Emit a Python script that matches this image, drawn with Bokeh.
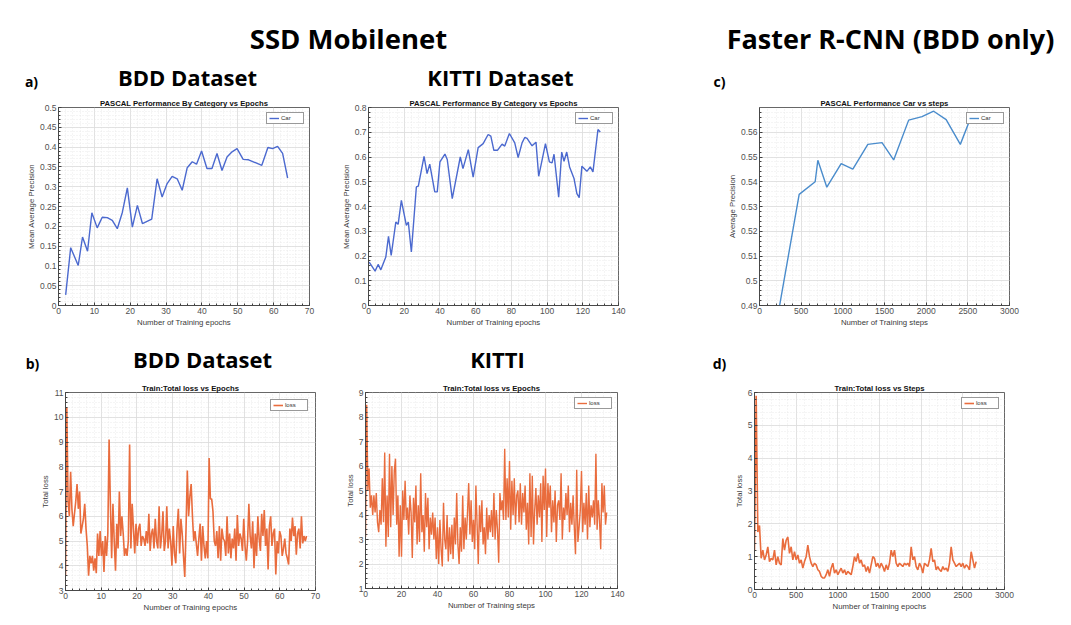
import numpy as np
from bokeh.plotting import figure
from bokeh.models import Range1d, Label, SingleIntervalTicker, CustomJSTickFormatter
from bokeh.layouts import column, row
from bokeh.embed import file_html
from bokeh.resources import INLINE

# ---------------- data ----------------
bdd_ap_epoch = [2.0, 3.4, 5.5, 6.7, 8.1, 9.3, 10.8, 12.2, 13.6, 15.0, 16.4, 17.8, 19.2, 20.6, 22.0,
                23.4, 26.0, 27.5, 28.9, 30.3, 31.7, 33.1, 34.5, 35.9, 37.3, 38.5, 39.9, 41.4, 42.8,
                44.2, 45.6, 47.0, 48.4, 49.8, 51.5, 53.0, 56.7, 58.4, 59.7, 61.1, 62.5, 63.9]
bdd_ap_car = [0.027, 0.146, 0.101, 0.173, 0.137, 0.234, 0.196, 0.223, 0.222, 0.215, 0.194, 0.235,
              0.297, 0.198, 0.253, 0.207, 0.218, 0.320, 0.274, 0.308, 0.326, 0.320, 0.291, 0.348,
              0.363, 0.357, 0.390, 0.346, 0.346, 0.384, 0.341, 0.375, 0.388, 0.396, 0.369, 0.368,
              0.354, 0.399, 0.396, 0.402, 0.384, 0.322]

kitti_ap_epoch = [0.4, 3.7, 5.4, 6.9, 9.7, 11.2, 12.7, 15.3, 16.6, 18.4, 21.2, 22.3, 24.0, 26.8, 27.9,
                  31.1, 32.8, 34.3, 37.1, 38.5, 40.0, 42.8, 44.1, 46.9, 51.4, 52.9, 55.9, 58.6, 61.4,
                  64.2, 67.0, 68.5, 70.2, 72.2, 74.8, 76.3, 78.9, 81.9, 83.8, 86.0, 87.5, 88.8, 91.6,
                  93.8, 95.3, 97.2, 99.1, 101.3, 102.8, 103.9, 106.5, 108.2, 109.5, 111.0, 112.6,
                  115.1, 116.7, 118.0, 119.5, 122.3, 124.2, 125.7, 128.5, 129.8]
kitti_ap_car = [0.175, 0.139, 0.166, 0.144, 0.196, 0.279, 0.202, 0.337, 0.328, 0.425, 0.324, 0.337,
                0.216, 0.479, 0.482, 0.603, 0.533, 0.571, 0.459, 0.459, 0.580, 0.612, 0.590, 0.432,
                0.600, 0.553, 0.630, 0.519, 0.638, 0.654, 0.691, 0.684, 0.627, 0.627, 0.652, 0.644,
                0.695, 0.657, 0.598, 0.657, 0.679, 0.675, 0.645, 0.660, 0.522, 0.587, 0.654, 0.580,
                0.576, 0.611, 0.438, 0.620, 0.583, 0.620, 0.560, 0.513, 0.452, 0.436, 0.563, 0.542,
                0.560, 0.540, 0.711, 0.701]

frcnn_ap_step = [150, 476, 668, 700, 808, 980, 1120, 1300, 1470, 1610, 1790, 1950, 2090, 2240, 2410, 2540]
frcnn_ap_car = [0.4725, 0.5349, 0.5400, 0.5487, 0.5378, 0.5473, 0.5451, 0.5551, 0.5558, 0.5488,
                0.5649, 0.5663, 0.5685, 0.5651, 0.5551, 0.5664]

bdd_loss = [3.6, 10.4, 6.6, 6.0, 7.8, 6.3, 5.6, 6.1, 6.6, 7.3, 6.3, 7.0, 5.3, 5.6,
            5.9, 6.5, 5.5, 4.8, 3.6, 4.4, 4.1, 4.4, 3.8, 4.3, 3.7, 5.3, 4.4, 5.4,
            4.4, 5.0, 3.75, 5.2, 4.4, 5.3, 9.1, 6.5, 4.3, 6.5, 5.0, 3.8, 5.7, 4.7,
            7.0, 5.2, 6.0, 5.3, 4.4, 4.7, 4.4, 5.0, 8.9, 4.7, 6.5, 5.5, 4.5, 5.7,
            4.8, 5.5, 5.7, 4.8, 5.2, 5.1, 4.8, 5.4, 4.9, 6.1, 4.6, 5.3, 5.5, 4.7,
            5.9, 5.0, 4.7, 6.4, 4.7, 5.2, 6.2, 4.6, 5.0, 6.4, 4.7, 5.5, 5.0, 4.0,
            5.6, 4.5, 4.1, 5.5, 6.3, 4.5, 5.9, 5.3, 4.4, 3.55, 5.5, 7.85, 6.0, 6.8,
            7.3, 6.0, 5.0, 5.4, 4.9, 4.4, 5.1, 5.7, 4.2, 5.6, 4.8, 4.3, 5.0, 4.3,
            8.35, 6.7, 6.7, 6.2, 5.0, 4.8, 5.4, 4.3, 5.6, 4.2, 5.5, 5.1, 5.0, 4.4,
            6.0, 4.5, 5.3, 4.3, 5.1, 4.7, 5.5, 4.2, 6.05, 4.8, 5.3, 5.1, 4.6, 5.9,
            4.8, 4.2, 5.0, 6.5, 5.2, 4.7, 5.8, 3.9, 5.3, 4.4, 6.0, 5.1, 4.6, 6.1,
            5.2, 6.25, 4.8, 5.5, 3.85, 5.6, 6.0, 4.8, 5.3, 5.5, 3.65, 5.0, 4.5, 5.4,
            5.2, 4.4, 4.7, 5.1, 4.5, 4.3, 4.05, 5.5, 5.0, 5.95, 5.2, 5.6, 4.45, 5.3,
            5.5, 4.7, 6.0, 4.9, 5.2, 5.0, 5.2]
bdd_loss_last_epoch = 67.5

kitti_loss = [3.1, 8.5, 5.0, 5.9, 4.3, 4.8, 4.0, 4.8, 4.1, 4.9, 3.7, 3.3, 4.2, 3.6, 5.5,
              3.7, 6.55, 2.7, 4.8, 3.1, 6.5, 3.5, 6.0, 4.0, 5.8, 6.3, 3.6, 4.8, 2.3, 4.4,
              2.3, 5.0, 3.8, 5.4, 3.8, 4.3, 3.2, 4.8, 4.1, 2.25, 4.7, 3.7, 5.2, 2.8, 4.4,
              2.9, 5.7, 3.3, 4.0, 2.5, 4.9, 3.5, 4.7, 2.6, 3.9, 3.2, 4.1, 3.0, 3.9, 2.2,
              3.5, 2.0, 3.8, 2.6, 1.9, 4.5, 3.0, 2.6, 4.0, 2.1, 3.5, 2.4, 3.6, 2.2, 3.9,
              2.8, 4.9, 2.8, 2.0, 3.5, 2.5, 4.8, 2.6, 3.9, 3.0, 4.1, 5.3, 3.2, 4.6, 2.9,
              3.8, 2.6, 5.2, 3.6, 2.0, 4.4, 3.3, 4.6, 2.8, 3.5, 2.4, 4.3, 3.0, 4.0, 3.3,
              4.2, 3.1, 4.9, 3.0, 4.2, 3.4, 2.05, 4.9, 4.2, 4.6, 3.8, 6.7, 3.8, 5.5, 3.9,
              6.2, 3.4, 5.4, 4.0, 5.5, 3.6, 4.8, 5.0, 3.7, 5.3, 3.6, 4.9, 4.1, 5.2, 3.4,
              4.5, 2.8, 5.7, 3.1, 5.6, 2.8, 4.2, 5.1, 3.6, 4.8, 3.9, 5.3, 2.9, 5.6, 4.2,
              5.9, 3.1, 5.3, 4.3, 5.2, 3.3, 4.6, 3.7, 5.0, 2.9, 4.4, 4.6, 3.8, 5.7, 3.0,
              4.3, 3.8, 4.9, 4.0, 5.2, 3.3, 4.5, 3.6, 4.8, 3.5, 2.4, 5.85, 2.9, 3.5, 4.2,
              5.8, 3.3, 4.5, 3.6, 4.9, 3.0, 5.2, 3.5, 4.4, 3.9, 4.6, 3.6, 6.5, 3.4, 4.6,
              3.8, 2.6, 5.3, 4.1, 5.2, 3.6, 4.1]
kitti_loss_last_epoch = 134

frcnn_loss_step_size = 20
frcnn_loss = [1.2, 5.9, 1.75, 1.95, 0.95, 1.2, 0.9, 1.05, 1.3, 0.85, 0.95, 0.9, 1.2, 0.75, 1.0, 0.8,
              0.75, 1.55, 1.2, 1.5, 1.6, 1.1, 1.3, 0.9, 1.15, 0.9, 1.05, 0.8, 0.9, 0.65, 0.85, 1.0,
              1.35, 1.0, 0.8, 0.7, 0.8, 0.75, 0.6, 0.55, 0.4, 0.35, 0.35, 0.45, 0.6, 0.4, 0.65, 0.8,
              0.5, 0.6, 0.45, 0.55, 0.65, 0.5, 0.6, 0.45, 0.55, 0.5, 0.45, 0.7, 1.0, 0.85, 1.1, 0.8,
              0.9, 0.7, 0.75, 0.55, 0.7, 0.5, 0.75, 1.0, 0.95, 0.7, 0.8, 0.65, 0.8, 0.7, 0.55, 0.75,
              0.6, 0.8, 1.2, 1.0, 1.2, 0.8, 0.7, 0.8, 0.75, 0.7, 0.8, 0.75, 0.8, 0.7, 1.3, 0.9,
              1.0, 0.7, 0.6, 0.8, 0.7, 0.5, 0.8, 0.75, 0.7, 0.9, 1.25, 0.85, 0.9, 0.6, 0.7, 0.6,
              0.55, 0.7, 0.6, 0.65, 0.55, 0.8, 1.3, 0.9, 0.8, 0.7, 0.75, 0.8, 0.7, 0.8, 0.65, 0.75,
              0.7, 0.6, 1.15, 0.9, 0.65, 0.85]

# headings (text, page x, page y, font size, baseline)
band1_texts = [("SSD Mobilenet", 348, 38, "27.5px", "middle"),
               ("Faster R-CNN (BDD only)", 890, 38, "27px", "middle"),
               ("BDD Dataset", 187, 76, "22px", "middle"), ("KITTI Dataset", 500, 76, "22px", "middle"),
               ("a)", 31, 90.5, "14px", "bottom"), ("c)", 719, 90.5, "14px", "bottom")]
band2_texts = [("BDD Dataset", 202, 358, "22px", "middle"), ("KITTI", 497, 358, "22px", "middle"),
               ("b)", 32, 372.5, "14px", "bottom"), ("d)", 719, 372.5, "14px", "bottom")]

# ---------------- style ----------------
AX_FONT = "Liberation Sans"
HEAD_FONT = "Open Sans"
BLUE = "#4b69cf"
BLUE2 = "#4a8ccc"
ORANGE = "#e96c3d"

TOTAL_W = 1068
COL1 = (0, 338)
COL2 = (338, 690)
COL3 = (690, TOTAL_W)
BAND1 = (0, 91)
ROW1 = (91, 336)
BAND2 = (336, 373)
ROW2 = (373, 622)


def tick_fmt():
    return CustomJSTickFormatter(code="return String(parseFloat(tick.toFixed(6)));")


def make_band(y0, y1, texts):
    h = y1 - y0
    b = figure(width=TOTAL_W, height=h, x_range=Range1d(0, TOTAL_W), y_range=Range1d(h, 0),
               min_border=0, x_axis_type=None, y_axis_type=None,
               output_backend="svg", toolbar_location=None, tools="")
    b.grid.visible = False
    b.outline_line_color = None
    b.background_fill_color = "white"
    b.border_fill_color = "white"
    for text, px, py, size, base in texts:
        b.add_layout(Label(x=px, y=py - y0, text=text, text_font=HEAD_FONT,
                           text_font_size=size, text_font_style="bold", text_color="#000000",
                           text_align="center", text_baseline=base))
    return b


def make_panel(frame, canvas, xr, yr, xint, yint, xlabel, ylabel, title):
    L, T, R, B = frame
    cx0, cy0, cx1, cy1 = canvas
    p = figure(frame_width=R - L, frame_height=B - T,
               min_border_left=L - cx0, min_border_right=cx1 - R,
               min_border_top=T - cy0, min_border_bottom=cy1 - B,
               x_range=Range1d(*xr), y_range=Range1d(*yr), title=title,
               output_backend="svg", toolbar_location=None, tools="")
    p.background_fill_color = "white"
    p.border_fill_color = "white"
    p.outline_line_color = "#404040"
    p.outline_line_width = 0.8

    p.title.align = "center"
    p.title.text_font = AX_FONT
    p.title.text_font_size = "7.7px"
    p.title.text_font_style = "bold"
    p.title.text_color = "#111111"
    p.title.text_line_height = 0.7
    p.title.standoff = 0
    p.title.offset = 0

    xt = SingleIntervalTicker(interval=xint, num_minor_ticks=5)
    yt = SingleIntervalTicker(interval=yint, num_minor_ticks=5)
    p.xaxis.ticker = xt
    p.yaxis.ticker = yt
    p.xgrid.ticker = xt
    p.ygrid.ticker = yt
    p.xaxis.formatter = tick_fmt()
    p.yaxis.formatter = tick_fmt()

    for ax in (p.xaxis, p.yaxis):
        ax.major_tick_in = 3
        ax.major_tick_out = 0
        ax.minor_tick_in = 2
        ax.minor_tick_out = 0
        ax.major_tick_line_color = "#404040"
        ax.minor_tick_line_color = "#404040"
        ax.axis_line_color = "#404040"
        ax.axis_line_width = 0.8
        ax.major_label_text_font = AX_FONT
        ax.major_label_text_font_size = "8.5px"
        ax.major_label_text_color = "#505050"
        ax.axis_label_text_font = AX_FONT
        ax.axis_label_text_font_size = "7.8px"
        ax.axis_label_text_font_style = "normal"
        ax.axis_label_text_color = "#3a3a3a"
        ax.axis_label_standoff = 1
    p.xaxis.major_label_standoff = 2
    p.yaxis.major_label_standoff = 2
    p.xaxis.axis_label = xlabel
    p.yaxis.axis_label = ylabel

    p.grid.grid_line_color = "#dcdcdc"
    p.grid.grid_line_width = 0.8
    p.grid.minor_grid_line_color = "#e4e4e4"
    p.grid.minor_grid_line_dash = "1 2"
    p.grid.minor_grid_line_width = 0.8
    return p


def style_legend(p, margin):
    lg = p.legend[0]
    lg.location = "top_right"
    lg.margin = margin
    lg.padding = 2
    lg.spacing = 0
    lg.glyph_width = 10
    lg.glyph_height = 6
    lg.label_height = 6
    lg.label_standoff = 2
    lg.label_text_font = AX_FONT
    lg.label_text_font_size = "6px"
    lg.label_text_color = "#333333"
    lg.border_line_color = "#333333"
    lg.border_line_width = 0.6
    lg.background_fill_alpha = 1.0


# a) BDD AP
pa = make_panel((58, 107, 309, 305), (COL1[0], ROW1[0], COL1[1], ROW1[1]), (0, 70), (0, 0.5), 10, 0.05,
                "Number of Training epochs", "Mean Average Precision",
                "PASCAL Performance By Category vs Epochs")
pa.line(bdd_ap_epoch, bdd_ap_car, line_color=BLUE, line_width=1.4, legend_label="Car")
style_legend(pa, 5)

# KITTI AP
pk = make_panel((363, 107, 613, 305), (COL2[0], ROW1[0], COL2[1], ROW1[1]), (0, 140), (0, 0.8), 20, 0.1,
                "Number of Training epochs", "Mean Average Precision",
                "PASCAL Performance By Category vs Epochs")
pk.line(kitti_ap_epoch, kitti_ap_car, line_color=BLUE, line_width=1.4, legend_label="Car")
style_legend(pk, 5)

# c) Faster R-CNN AP
pc = make_panel((754, 107, 1004, 305), (COL3[0], ROW1[0], COL3[1], ROW1[1]), (0, 3000), (0.49, 0.57), 500, 0.01,
                "Number of Training steps", "Average Precision",
                "PASCAL Performance Car vs steps")
pc.line(frcnn_ap_step, frcnn_ap_car, line_color=BLUE2, line_width=1.4, legend_label="Car")
style_legend(pc, 5)

# b) BDD loss
pb = make_panel((65, 389, 315, 587), (COL1[0], ROW2[0], COL1[1], ROW2[1]), (0, 70), (3, 11), 10, 1,
                "Number of Training epochs", "Total loss",
                "Train:Total loss vs Epochs")
pb.line(np.linspace(0, bdd_loss_last_epoch, len(bdd_loss)), bdd_loss, line_color=ORANGE,
        line_width=1.6, legend_label="loss")
style_legend(pb, 7)

# KITTI loss
pkl = make_panel((365, 392, 617, 588), (COL2[0], ROW2[0], COL2[1], ROW2[1]), (0, 140), (1, 9), 20, 1,
                 "Number of Training steps", "Total loss",
                 "Train:Total loss vs Epochs")
pkl.line(np.linspace(0, kitti_loss_last_epoch, len(kitti_loss)), kitti_loss, line_color=ORANGE,
         line_width=1.4, legend_label="loss")
style_legend(pkl, 5)

# d) Faster R-CNN loss
pd_ = make_panel((754, 391, 1004, 588), (COL3[0], ROW2[0], COL3[1], ROW2[1]), (0, 3000), (0, 6), 500, 1,
                 "Number of Training epochs", "Total loss",
                 "Train:Total loss vs Steps")
pd_.line(np.arange(len(frcnn_loss)) * frcnn_loss_step_size, frcnn_loss, line_color=ORANGE,
         line_width=1.6, legend_label="loss")
style_legend(pd_, 5)

band1 = make_band(BAND1[0], BAND1[1], band1_texts)
band2 = make_band(BAND2[0], BAND2[1], band2_texts)

layout = column(band1, row(pa, pk, pc), band2, row(pb, pkl, pd_))
open("out.html", "w").write(file_html(layout, INLINE))
